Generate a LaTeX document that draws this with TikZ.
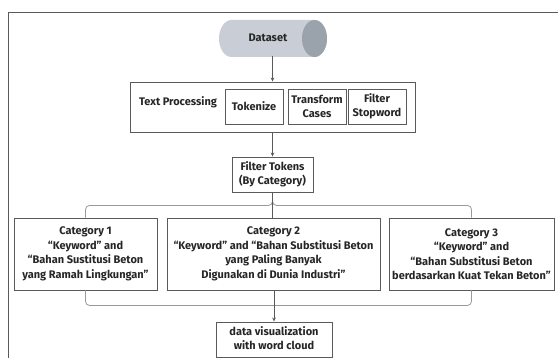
\documentclass[tikz,border=0pt]{standalone}
\usepackage{fontspec}
\setmainfont{Fira Sans}
\usetikzlibrary{arrows.meta}
\definecolor{txt}{HTML}{262626}
\definecolor{edge}{HTML}{5A5A5A}
\definecolor{branchc}{HTML}{9A9A9A}
\definecolor{cylbody}{HTML}{C9CED6}
\definecolor{cylend}{HTML}{9AA2AC}
\tikzset{
  box/.style={draw=edge, line width=0.9pt, fill=white, align=center, text=txt,
    inner sep=0pt, font=\fontsize{11}{14.5}\selectfont\bfseries},
  branch/.style={draw=branchc, line width=0.8pt, rounded corners=4pt},
  arr/.style={draw=edge, line width=0.9pt, -{Stealth[length=4pt,width=3.6pt]}},
  lbl/.style={text=txt, inner sep=0pt, font=\fontsize{11}{14.5}\selectfont\bfseries}
}
\begin{document}
\begin{tikzpicture}[x=1pt,y=-1pt]
\useasboundingbox (0,0) rectangle (558,358);
% outer frame
\draw[edge, line width=0.9pt] (8,358) -- (8,12.7) -- (558,12.7);
% dataset cylinder
\fill[cylbody] (231.5,20) -- (314.5,20) arc(270:450:12.5 and 18.5)
  -- (231.5,57) arc(90:270:12.5 and 18.5) -- cycle;
\fill[cylend] (314.5,38.5) ellipse (12.5 and 18.5);
\node[lbl, minimum height=37pt] (ds) at (268,37.5) {Dataset};
% text processing
\node[box, minimum width=285pt, minimum height=50pt] (tp) at (272.5,107) {};
\node[lbl] (tpl) at (178,102) {Text Processing};
\node[box, minimum width=58pt, minimum height=35pt] (tok) at (254,106.5) {Tokenize};
\node[box, minimum width=58pt, minimum height=35pt] (tc) at (317,106.5) {Transform\\Cases};
\node[box, minimum width=58pt, minimum height=35pt] (fs) at (377,106.5) {Filter\\Stopword};
% filter tokens
\node[box, minimum width=81pt, minimum height=35pt] (ft) at (272.5,174.5) {Filter Tokens\\(By Category)};
% categories
\node[box, minimum width=143pt, minimum height=72pt] (c1) at (85.5,254)
  {Category 1\\“Keyword” and\\“Bahan Sustitusi Beton\\yang Ramah Lingkungan”};
\node[box, minimum width=213pt, minimum height=72pt] (c2) at (273.5,254)
  {Category 2\\“Keyword” and “Bahan Substitusi Beton\\yang Paling Banyak\\Digunakan di Dunia Industri”};
\node[box, minimum width=165pt, minimum height=72pt] (c3) at (471.5,254)
  {Category 3\\“Keyword” and\\“Bahan Substitusi Beton\\berdasarkan Kuat Tekan Beton”};
% data visualization
\node[box, minimum width=116pt, minimum height=35pt] (dv) at (274,339.5)
  {\raisebox{3pt}{\begin{tabular}{@{}c@{}}data visualization\\with word cloud\end{tabular}}};
% connectors
\draw[arr] (ds.south -| tp.north) -- (tp.north);
\draw[arr] (tp.south) -- (ft.north);
\draw[branch] (ft.south) -- ++(0,13) -| (c1.north);
\draw[branch] (ft.south) -- ++(0,13) -| (c3.north);
\draw[draw=edge, line width=0.8pt] (ft.south) -- (ft.south |- c2.north);
\draw[branch] (c1.south) -- ++(0,15) -| (c3.south);
\draw[arr] (c2.south -| dv.north) -- (dv.north);
\end{tikzpicture}
\end{document}
